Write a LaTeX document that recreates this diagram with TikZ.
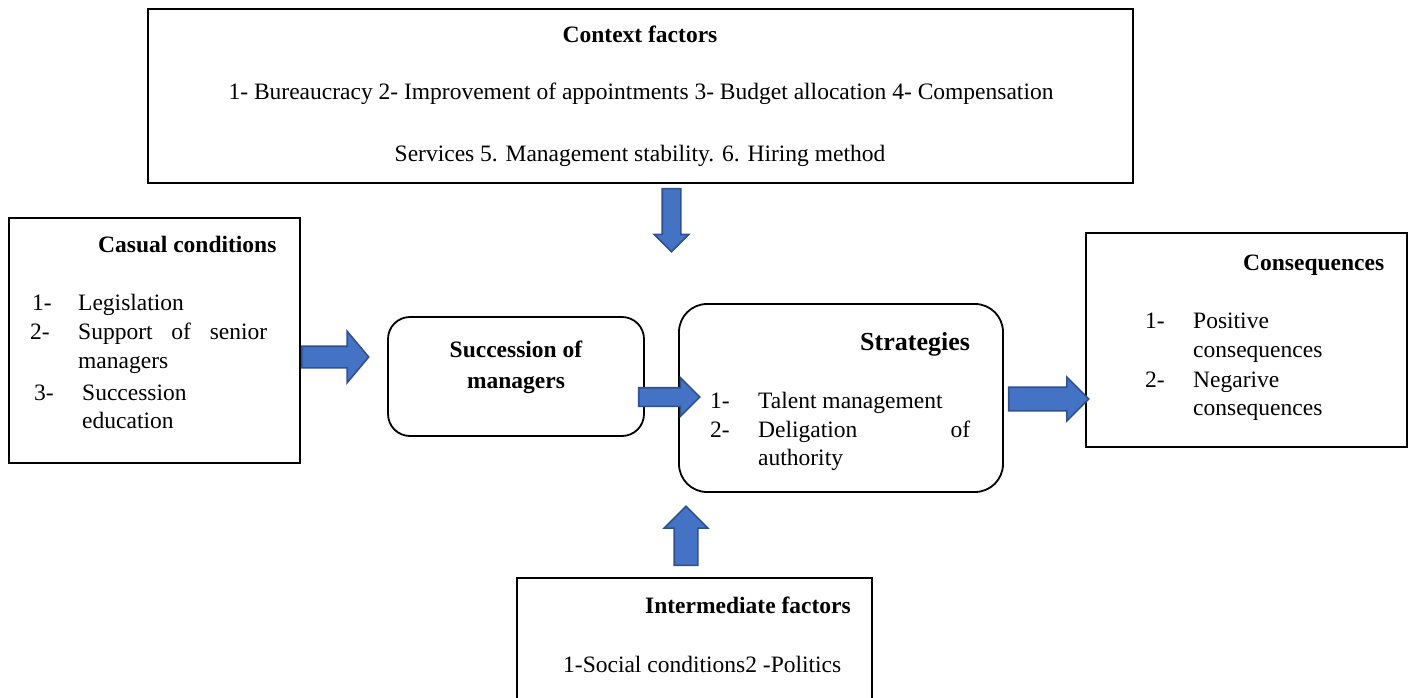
\documentclass[tikz,border=0pt]{standalone}
\usepackage{fontspec}
\setmainfont{Liberation Serif}
\usetikzlibrary{positioning, shapes.arrows, calc}
\definecolor{arrowblue}{HTML}{4472C4}
\definecolor{arrowedge}{HTML}{2F528F}
\tikzset{
  box/.style={draw, line width=1.8pt, inner sep=0pt},
  roundbox/.style={box, rounded corners=22pt},
  txt/.style={inner sep=0pt, anchor=base west, font=\fontsize{23.5}{29}\selectfont},
  head/.style={txt, font=\fontsize{23.5}{29}\selectfont\bfseries},
  bigarrow/.style={single arrow, draw=arrowedge, fill=arrowblue, line width=1.6pt,
    inner xsep=0pt, anchor=tail}
}
\begin{document}
\begin{tikzpicture}[x=1pt, y=-1pt]
\useasboundingbox (0,0) rectangle (1409,698);
\clip (0,0) rectangle (1409,698);

% boxes
\node[box, minimum width=985pt, minimum height=174pt] (ctx) at (640.5,96) {};
\node[box, minimum width=291pt, minimum height=245pt] (cause) at (154.5,340.5) {};
\node[roundbox, minimum width=256pt, minimum height=119pt] (succ) at (516,376.5) {};
\node[roundbox, rounded corners=28pt, minimum width=324pt, minimum height=188pt] (strat) at (841,398) {};
\node[box, minimum width=321pt, minimum height=214pt] (cons) at (1246.5,340) {};
\node[box, minimum width=355pt, minimum height=150pt] (inter) at (694.5,653) {};

% context factors
\node[head, anchor=base] (ctx-title) at (640,43) {Context factors};
\node[txt, anchor=base] (ctx-l1) at (641,100) {1- Bureaucracy 2- Improvement of appointments 3- Budget allocation 4- Compensation};
\node[txt, anchor=base] (ctx-l2) at (640,162) {Services 5. Management stability. 6. Hiring method};

% casual conditions
\node[head] (cause-title) at (98,252) {Casual conditions};
\node[txt] (cause-n1) at (32,310) {1-};
\node[txt] (cause-1) at (78,310) {Legislation};
\node[txt] (cause-n2) at (30,339) {2-};
\node[txt] (cause-2) at (78,339) {\makebox[189pt][s]{Support of senior}};
\node[txt] (cause-2b) at (78,368) {managers};
\node[txt] (cause-n3) at (34,400) {3-};
\node[txt] (cause-3) at (82,400) {Succession};
\node[txt] (cause-3b) at (82,428) {education};

% succession of managers
\node[head, anchor=base] (succ-l1) at (516,357) {Succession of};
\node[head, anchor=base] (succ-l2) at (516,388) {managers};

% strategies
\node[head, font=\fontsize{26}{30}\selectfont\bfseries] (strat-title) at (860,350) {Strategies};
\node[txt] (strat-n1) at (710,408) {1-};
\node[txt] (strat-1) at (758,408) {Talent management};
\node[txt] (strat-n2) at (710,437) {2-};
\node[txt] (strat-2) at (758,437) {\makebox[212pt][s]{Deligation of}};
\node[txt] (strat-2b) at (758,465) {authority};

% consequences
\node[head] (cons-title) at (1243,270) {Consequences};
\node[txt] (cons-n1) at (1145,328) {1-};
\node[txt] (cons-1) at (1193,328) {Positive};
\node[txt] (cons-1b) at (1193,357) {consequences};
\node[txt] (cons-n2) at (1145,387) {2-};
\node[txt] (cons-2) at (1193,387) {Negarive};
\node[txt] (cons-2b) at (1193,415) {consequences};

% intermediate factors
\node[head] (inter-title) at (645,613) {Intermediate factors};
\node[txt] (inter-l1) at (563,672) {1-Social conditions2 -Politics};

% block arrows
\node[bigarrow, rotate=-90, inner ysep=8.5pt, minimum height=63pt, minimum width=33pt, single arrow head extend=8pt] (down) at ([xshift=31pt,yshift=-4pt]ctx.south) {};
\node[bigarrow, single arrow tip angle=100, inner ysep=10pt, minimum height=67pt, minimum width=50pt, single arrow head extend=15pt] (toSucc) at ([yshift=-16.5pt]cause.east) {};
\node[bigarrow, inner ysep=8.5pt, minimum height=61pt, minimum width=37pt, single arrow head extend=10pt] (toStrat) at ([xshift=-7pt,yshift=-20.5pt]succ.east) {};
\node[bigarrow, inner ysep=11pt, minimum height=80pt, minimum width=42pt, single arrow head extend=10pt] (toCons) at ([xshift=4pt,yshift=-1pt]strat.east) {};
\node[bigarrow, rotate=90, inner ysep=11pt, minimum height=59pt, minimum width=42pt, single arrow head extend=10pt] (up) at ([xshift=-8.5pt,yshift=11pt]inter.north) {};
\end{tikzpicture}
\end{document}
